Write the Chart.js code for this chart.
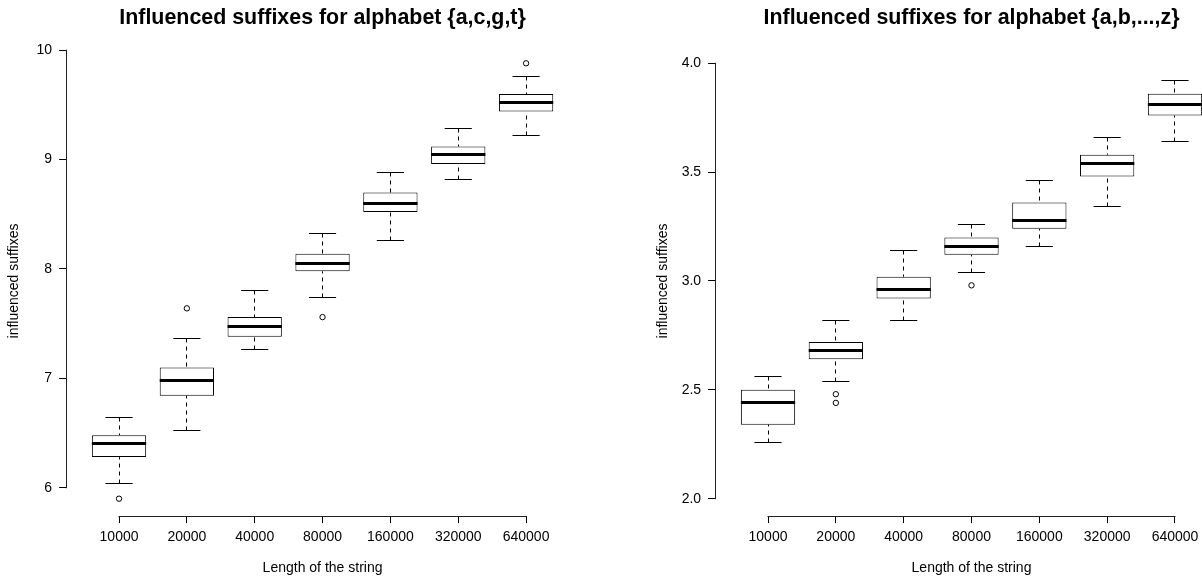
<!DOCTYPE html>
<html>
<head>
<meta charset="utf-8">
<script src="https://cdn.jsdelivr.net/npm/chart.js@4.4.1/dist/chart.umd.min.js"></script>
<style>
html, body { margin: 0; padding: 0; background: #fff; }
#wrap { position: relative; width: 1202px; height: 581px; overflow: hidden; background: #fff; }
canvas { position: absolute; top: 0; }
</style>
</head>
<body>
<div id="wrap">
  <canvas id="c1" width="600" height="581" style="left:0px"></canvas>
  <canvas id="c2" width="600" height="581" style="left:649px"></canvas>
</div>
<script>
// ---------- data ----------
const categories = ['10000', '20000', '40000', '80000', '160000', '320000', '640000'];

// alphabet {a,c,g,t}
const acgtLow      = [6.04, 6.52, 7.26, 7.74, 8.26, 8.82, 9.22];
const acgtQ1       = [6.28, 6.84, 7.38, 7.98, 8.52, 8.96, 9.44];
const acgtMedian   = [6.40, 6.98, 7.47, 8.05, 8.60, 9.05, 9.52];
const acgtQ3       = [6.48, 7.10, 7.56, 8.14, 8.70, 9.12, 9.60];
const acgtHigh     = [6.64, 7.36, 7.80, 8.32, 8.88, 9.28, 9.76];
const acgtOutliers = [[5.90], [7.64], [], [7.56], [], [], [9.88]];
const acgtYTicks      = [6, 7, 8, 9, 10];
const acgtYTickLabels = ['6', '7', '8', '9', '10'];

// alphabet {a,b,...,z}
const azLow      = [2.26, 2.54, 2.82, 3.04, 3.16, 3.34, 3.64];
const azQ1       = [2.34, 2.64, 2.92, 3.12, 3.24, 3.48, 3.76];
const azMedian   = [2.44, 2.68, 2.96, 3.16, 3.28, 3.54, 3.81];
const azQ3       = [2.50, 2.72, 3.02, 3.20, 3.36, 3.58, 3.86];
const azHigh     = [2.56, 2.82, 3.14, 3.26, 3.46, 3.66, 3.92];
const azOutliers = [[], [2.48, 2.44], [], [2.98], [], [], []];
const azYTicks      = [2.0, 2.5, 3.0, 3.5, 4.0];
const azYTickLabels = ['2.0', '2.5', '3.0', '3.5', '4.0'];
const azYLimits     = [2, 4];

// ---------- helpers ----------
Chart.defaults.font.family = "'Liberation Sans', Arial, Helvetica, sans-serif";
Chart.defaults.color = '#000';

function rRange(lo, hi) { const e = 0.04 * (hi - lo); return [lo - e, hi + e]; }
function crisp(v) { return Math.round(v - 0.5) + 0.5; }

function boxPlugin(st) {
  return {
    id: 'rbox',
    afterDatasetsDraw(chart) {
      const { ctx, scales: { x, y } } = chart;
      const bars = chart.getDatasetMeta(0).data;
      ctx.save();
      ctx.strokeStyle = '#000';
      ctx.lineCap = 'butt';
      const seg = (x1, y1, x2, y2) => { ctx.beginPath(); ctx.moveTo(x1, y1); ctx.lineTo(x2, y2); ctx.stroke(); };
      for (let i = 0; i < categories.length; i++) {
        const cx = x.getPixelForValue(i + 1);
        const half = bars[i].width / 2;
        const sh = half / 2;
        const yl = crisp(y.getPixelForValue(st.low[i]));
        const yq1 = y.getPixelForValue(st.q1[i]);
        const ym = crisp(y.getPixelForValue(st.med[i]));
        const yq3 = y.getPixelForValue(st.q3[i]);
        const yh = crisp(y.getPixelForValue(st.high[i]));
        const xc = crisp(cx);
        ctx.lineWidth = 1;
        ctx.setLineDash([4, 4]);
        seg(xc, yl, xc, yq1);
        seg(xc, yh, xc, yq3);
        ctx.setLineDash([]);
        seg(cx - sh, yl, cx + sh, yl);
        seg(cx - sh, yh, cx + sh, yh);
        ctx.lineWidth = 3;
        seg(cx - half, ym, cx + half, ym);
      }
      // R-style axis lines spanning first..last tick
      ctx.lineWidth = 1;
      ctx.strokeStyle = '#222';
      const ax = crisp(x.left);
      seg(ax, y.getPixelForValue(st.yTicks[0]) + 0.5, ax, y.getPixelForValue(st.yTicks[st.yTicks.length - 1]) - 0.5);
      const ay = crisp(y.bottom);
      seg(x.getPixelForValue(1) - 0.5, ay, x.getPixelForValue(categories.length) + 0.5, ay);
      ctx.restore();
    }
  };
}

function makeChart(id, st) {
  const boxData = categories.map((c, i) => ({ x: i + 1, y: [st.q1[i], st.q3[i]] }));
  const outData = [];
  st.outliers.forEach((arr, i) => arr.forEach(v => outData.push({ x: i + 1, y: v })));
  const H = 581, plotBottom = 516.1, plotLeft = 66.1, plotRight = st.plotRight;
  const axisCommon = {
    grid: { display: true, drawOnChartArea: false, drawTicks: true, tickLength: 7, color: '#000', lineWidth: 1, offset: false },
    border: { display: false }
  };
  return new Chart(document.getElementById(id), {
    type: 'bar',
    data: {
      datasets: [
        {
          type: 'bar', data: boxData,
          backgroundColor: '#fff', borderColor: '#000', borderWidth: 1, borderSkipped: false,
          categoryPercentage: 1.0, barPercentage: 0.8
        },
        {
          type: 'scatter', data: outData,
          pointRadius: 2.7, pointHoverRadius: 2.7, pointBorderWidth: 1,
          pointBorderColor: '#000', pointBackgroundColor: 'rgba(0,0,0,0)', showLine: false
        }
      ]
    },
    options: {
      responsive: false, animation: false, devicePixelRatio: 1, events: [],
      layout: { padding: { left: 0, top: 0, right: 600 - plotRight, bottom: 0 } },
      plugins: {
        legend: { display: false },
        tooltip: { enabled: false },
        title: {
          display: true, text: st.title, fullSize: false, color: '#000',
          font: { size: 21.4, weight: 'bold' }, padding: { top: 4.8, bottom: 15.4 }
        }
      },
      scales: {
        x: Object.assign({
          type: 'linear', bounds: 'data', offset: false,
          min: 0.5 - 0.04 * categories.length, max: categories.length + 0.5 + 0.04 * categories.length,
          afterBuildTicks: s => { s.ticks = categories.map((c, i) => ({ value: i + 1 })); },
          afterFit: s => { s.height = H - plotBottom; },
          ticks: { callback: (v, i) => categories[i], font: { size: 14 }, color: '#000', padding: 5.8, maxRotation: 0, autoSkip: false },
          title: { display: true, text: 'Length of the string', font: { size: 14 }, color: '#000', padding: { top: 0, bottom: 4.6 } }
        }, axisCommon),
        y: Object.assign({
          type: 'linear', bounds: 'data', min: st.yRange[0], max: st.yRange[1],
          afterBuildTicks: s => { s.ticks = st.yTicks.map(v => ({ value: v })); },
          afterFit: s => { s.width = plotLeft; },
          ticks: { callback: (v, i) => st.yTickLabels[i], font: { size: 14 }, color: '#000', padding: 7, autoSkip: false },
          title: { display: true, text: 'influenced suffixes', font: { size: 14 }, color: '#000', padding: { top: 6, bottom: 0 } }
        }, axisCommon)
      }
    },
    plugins: [boxPlugin(st)]
  });
}

const acgtAll = acgtLow.concat(acgtHigh, ...acgtOutliers);
makeChart('c1', {
  title: 'Influenced suffixes for alphabet {a,c,g,t}',
  low: acgtLow, q1: acgtQ1, med: acgtMedian, q3: acgtQ3, high: acgtHigh, outliers: acgtOutliers,
  yTicks: acgtYTicks, yTickLabels: acgtYTickLabels,
  yRange: rRange(Math.min(...acgtAll), Math.max(...acgtAll)),
  plotRight: 579.0
});
makeChart('c2', {
  title: 'Influenced suffixes for alphabet {a,b,...,z}',
  low: azLow, q1: azQ1, med: azMedian, q3: azQ3, high: azHigh, outliers: azOutliers,
  yTicks: azYTicks, yTickLabels: azYTickLabels,
  yRange: rRange(azYLimits[0], azYLimits[1]),
  plotRight: 578.9
});
</script>
</body>
</html>
